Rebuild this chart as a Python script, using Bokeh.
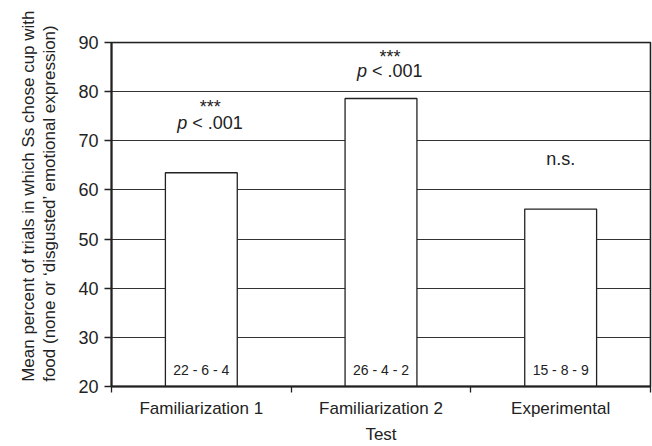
import numpy as np
from bokeh.plotting import figure
from bokeh.models import FixedTicker, Range1d, ColumnDataSource, Title, BoxAnnotation
from bokeh.core.properties import value
from bokeh.embed import file_html
from bokeh.resources import INLINE

# ---- data ----
categories = ["Familiarization 1", "Familiarization 2", "Experimental"]
means = [63.5, 78.6, 56.1]
counts = ["22 - 6 - 4", "26 - 4 - 2", "15 - 8 - 9"]
sig_stars = ["***", "***"]          # first two tests
sig_stars_y = [76.8, 87.1]
sig_p_y = [73.7, 84.3]
ns_label = "n.s."
ns_y = 66.2
count_y = 23.4
y_ticks = [20, 30, 40, 50, 60, 70, 80, 90]
y_label = "Mean percent of trials in which Ss chose cup with\nfood (none or \u2018disgusted\u2019 emotional expression)"
x_label = "Test"

FONT = "Liberation Sans"
TXT = "#222222"

xc = np.arange(len(categories)) + 0.5

p = figure(width=652, height=446, output_backend="svg", toolbar_location=None,
           x_range=Range1d(0, len(categories)), y_range=Range1d(20, 90),
           min_border_left=110, min_border_top=42, min_border_right=2,
           min_border_bottom=60)
p.background_fill_color = "white"
p.border_fill_color = "white"
p.outline_line_color = "#222222"
p.outline_line_width = 1.5

# grid
p.xgrid.visible = False
p.ygrid.ticker = FixedTicker(ticks=y_ticks)
p.ygrid.grid_line_color = "#333333"
p.ygrid.grid_line_width = 1

# frame border
p.add_layout(BoxAnnotation(fill_alpha=0, line_color="#222222", line_width=1.5,
                           level="overlay"))

# bars
src = ColumnDataSource(dict(x=xc, top=means, counts=counts))
p.vbar(x="x", top="top", bottom=20, width=0.4, source=src,
       fill_color="white", line_color="#222222", line_width=1.3)

# count labels inside bars
p.text(x="x", y=count_y, text="counts", source=src, text_align="center",
       text_baseline="alphabetic", text_font=value(FONT), text_font_size="14px",
       text_color=TXT)

# significance annotations
n_sig = len(sig_stars)
p.text(x=xc[:n_sig], y=sig_stars_y, text=sig_stars, x_offset=9, text_align="center",
       text_baseline="alphabetic", text_font=value(FONT), text_font_size="18px",
       text_color=TXT)
p.text(x=xc[:n_sig], y=sig_p_y, text=["p"] * n_sig, x_offset=-24, text_align="left",
       text_baseline="alphabetic", text_font=value(FONT), text_font_size="18px",
       text_font_style="italic", text_color=TXT)
p.text(x=xc[:n_sig], y=sig_p_y, text=["< .001"] * n_sig, x_offset=-9, text_align="left",
       text_baseline="alphabetic", text_font=value(FONT), text_font_size="18px",
       text_color=TXT)
p.text(x=[xc[2]], y=[ns_y], text=[ns_label], text_align="center",
       text_baseline="alphabetic", text_font=value(FONT), text_font_size="18px",
       text_color=TXT)

# x axis: labels at centers, ticks at category boundaries
xa = p.xaxis[0]
xa.ticker = FixedTicker(ticks=list(xc), minor_ticks=list(range(len(categories) + 1)))
xa.major_label_overrides = {float(v): c for v, c in zip(xc, categories)}
xa.major_tick_out = 0
xa.major_tick_in = 0
xa.minor_tick_out = 6
xa.minor_tick_in = 0
xa.minor_tick_line_color = "#222222"
xa.minor_tick_line_width = 1.3
xa.major_label_standoff = 6
xa.axis_label = x_label
xa.axis_label_standoff = 4

# y axis
ya = p.yaxis[0]
ya.ticker = FixedTicker(ticks=y_ticks)
ya.major_tick_out = 7
ya.major_tick_in = 0
ya.minor_tick_out = 0
ya.minor_tick_in = 0
ya.major_label_standoff = 6

# y axis title as a left-side title, top-aligned
p.add_layout(Title(text=y_label, align="right", offset=-32, standoff=32,
                   text_font=FONT, text_font_size="17px", text_font_style="normal",
                   text_color=TXT, text_line_height=1.15), "left")

for ax in (xa, ya):
    ax.axis_line_color = "#222222"
    ax.axis_line_width = 2
    ax.major_tick_line_color = "#222222"
    ax.major_tick_line_width = 1.3
    ax.major_label_text_font = FONT
    ax.major_label_text_font_size = "17px"
    ax.major_label_text_color = TXT
    ax.axis_label_text_font = FONT
    ax.axis_label_text_font_size = "17px"
    ax.axis_label_text_font_style = "normal"
    ax.axis_label_text_color = TXT

ya.major_label_text_font_size = "18px"

with open("out.html", "w") as f:
    f.write(file_html(p, INLINE))
